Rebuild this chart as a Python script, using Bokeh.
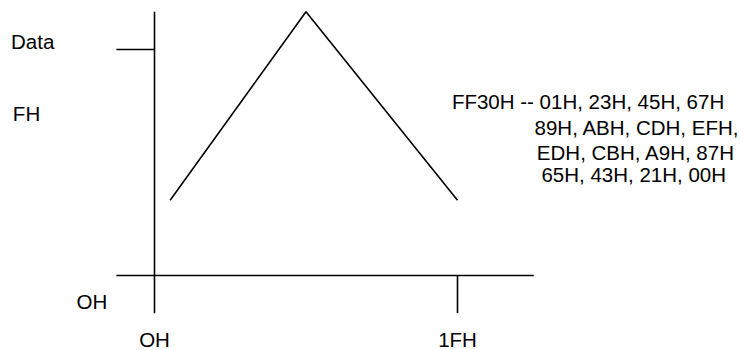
from bokeh.plotting import figure
from bokeh.models import Range1d
from bokeh.core.properties import value
from bokeh.embed import file_html
from bokeh.resources import INLINE

# Data (x in samples 0..1FH, y in data units 0..FH)
wave_x = [1.6, 15.5, 31]
wave_y = [5.0, 17.5, 5.0]

# axis extents
x_axis_x = [-3.9, 38.8]
y_axis_y = [-2.5, 17.5]
data_tick_y = 15
end_tick_x = 31

# texts
left_labels = ["Data", "FH", "OH"]
left_labels_x = [-14.68, -14.49, -7.98]
left_labels_y = [15.07, 10.29, -2.19]

bottom_labels = ["OH", "1FH"]
bottom_labels_x = [0, 31]
bottom_labels_y = [-4.68, -4.68]

note_lines = ["FF30H -- 01H, 23H, 45H, 67H",
              "89H, ABH, CDH, EFH,",
              "EDH, CBH, A9H, 87H",
              "65H, 43H, 21H, 00H"]
note_x = [30.43, 38.88, 39.12, 39.59]
note_y = [11.08, 9.36, 7.70, 6.21]

p = figure(width=740, height=350, output_backend="svg", toolbar_location=None,
           x_range=Range1d(-15.756, 59.954), y_range=Range1d(-4.978, 18.252),
           min_border=0, x_axis_type=None, y_axis_type=None,
           background_fill_color="white", border_fill_color="white")
p.outline_line_color = None
p.grid.visible = False

lw = 1.6
# axes
p.segment(x0=[0], y0=[y_axis_y[0]], x1=[0], y1=[y_axis_y[1]], line_color="black", line_width=lw)
p.segment(x0=[x_axis_x[0]], y0=[0], x1=[x_axis_x[1]], y1=[0], line_color="black", line_width=lw)
p.segment(x0=[x_axis_x[0]], y0=[data_tick_y], x1=[0], y1=[data_tick_y], line_color="black", line_width=lw)
p.segment(x0=[end_tick_x], y0=[y_axis_y[0]], x1=[end_tick_x], y1=[0], line_color="black", line_width=lw)

# waveform
p.line(wave_x, wave_y, line_color="black", line_width=lw)

font = value("Liberation Sans")
fs = "20.5px"
yo = -7
p.text(x=left_labels_x, y=left_labels_y, text=left_labels, text_font=font, y_offset=yo,
       text_font_size=fs, text_align="left", text_baseline="alphabetic", text_color="black")
p.text(x=bottom_labels_x, y=bottom_labels_y, text=bottom_labels, text_font=font, y_offset=yo,
       text_font_size=fs, text_align="center", text_baseline="alphabetic", text_color="black")
p.text(x=note_x, y=note_y, text=note_lines, text_font=font, y_offset=yo,
       text_font_size=fs, text_align="left", text_baseline="alphabetic", text_color="black")

open("out.html", "w").write(file_html(p, INLINE))
